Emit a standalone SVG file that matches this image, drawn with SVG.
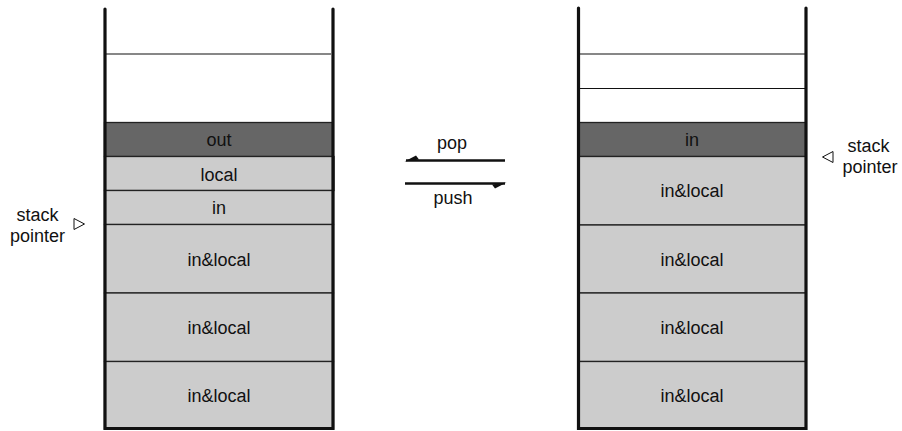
<svg xmlns="http://www.w3.org/2000/svg" width="902" height="431" viewBox="0 0 902 431">
  <defs>
    <style>
      text { font-family: "Liberation Sans", Arial, Helvetica, sans-serif; font-size: 18px; fill: #111; }
      .c { text-anchor: middle; }
      .wall { stroke: #111; stroke-width: 3.2; stroke-linecap: round; fill: none; }
      .slot { stroke: #111; stroke-width: 1.2; }
      .cell { fill: #cccccc; stroke: #222; stroke-width: 1.3; }
      .top { fill: #666666; stroke: #222; stroke-width: 1.3; }
      .ptr { fill: #fff; stroke: #111; stroke-width: 1; }
      .arr { stroke: #111; stroke-width: 2.5; fill: none; }
      .barb { fill: #111; }
    </style>
  </defs>

  <!-- stack before pop / after push -->
  <g id="stack-left">
    <line class="slot" x1="106" y1="54" x2="331" y2="54"/>
    <g id="left-out">
      <rect class="top" x="104.5" y="122.5" width="228.5" height="34"/>
      <text class="c" x="219" y="146">out</text>
    </g>
    <g id="left-local">
      <rect class="cell" x="104.5" y="156.5" width="229.5" height="34"/>
      <text class="c" x="219" y="181">local</text>
    </g>
    <g id="left-in">
      <rect class="cell" x="104.5" y="190.5" width="229" height="34"/>
      <text class="c" x="219" y="214">in</text>
    </g>
    <g id="left-frame1">
      <rect class="cell" x="104.5" y="224.5" width="229" height="68.5"/>
      <text class="c" x="219" y="266">in&amp;local</text>
    </g>
    <g id="left-frame2">
      <rect class="cell" x="104.5" y="293" width="229" height="68.5"/>
      <text class="c" x="219" y="334">in&amp;local</text>
    </g>
    <g id="left-frame3">
      <rect class="cell" x="104.5" y="361.5" width="229" height="67"/>
      <text class="c" x="219" y="402">in&amp;local</text>
    </g>
    <path class="wall" d="M105,9 L105,428.5 L333,428.5 L333,9"/>
  </g>

  <!-- stack after pop / before push -->
  <g id="stack-right">
    <line class="slot" x1="579" y1="54" x2="805" y2="54"/>
    <line class="slot" x1="579" y1="88.5" x2="805" y2="88.5"/>
    <g id="right-in">
      <rect class="top" x="578" y="122.5" width="228" height="34"/>
      <text class="c" x="692" y="146">in</text>
    </g>
    <g id="right-frame1">
      <rect class="cell" x="578" y="156.5" width="228" height="68.5"/>
      <text class="c" x="692" y="197">in&amp;local</text>
    </g>
    <g id="right-frame2">
      <rect class="cell" x="578" y="225" width="228" height="68"/>
      <text class="c" x="692" y="266">in&amp;local</text>
    </g>
    <g id="right-frame3">
      <rect class="cell" x="578" y="293" width="228" height="68.5"/>
      <text class="c" x="692" y="334">in&amp;local</text>
    </g>
    <g id="right-frame4">
      <rect class="cell" x="578" y="361.5" width="228" height="67"/>
      <text class="c" x="692" y="402">in&amp;local</text>
    </g>
    <path class="wall" d="M578.5,8 L578.5,428.5 L806,428.5 L806,8"/>
  </g>

  <!-- stack pointer markers -->
  <g id="sp-left">
    <text class="c" x="37.5" y="221">stack</text>
    <text class="c" x="37.5" y="242">pointer</text>
    <polygon class="ptr" points="74,218.5 84.5,224 74,229.5"/>
  </g>
  <g id="sp-right">
    <text class="c" x="868.5" y="152">stack</text>
    <text class="c" x="870" y="173">pointer</text>
    <polygon class="ptr" points="833,151.5 822.5,157 833,162.5"/>
  </g>

  <!-- pop / push transitions (half-barbed arrows) -->
  <g id="connectors">
    <line class="arr" x1="406" y1="160.5" x2="505" y2="160.5"/>
    <polygon class="barb" points="404.5,161.5 416,155.5 419,159.5"/>
    <line class="arr" x1="405" y1="183.5" x2="505" y2="183.5"/>
    <polygon class="barb" points="506.5,182.5 495,188.5 492,184.5"/>
    <text class="c" x="452" y="149">pop</text>
    <text class="c" x="453" y="204">push</text>
  </g>
</svg>
